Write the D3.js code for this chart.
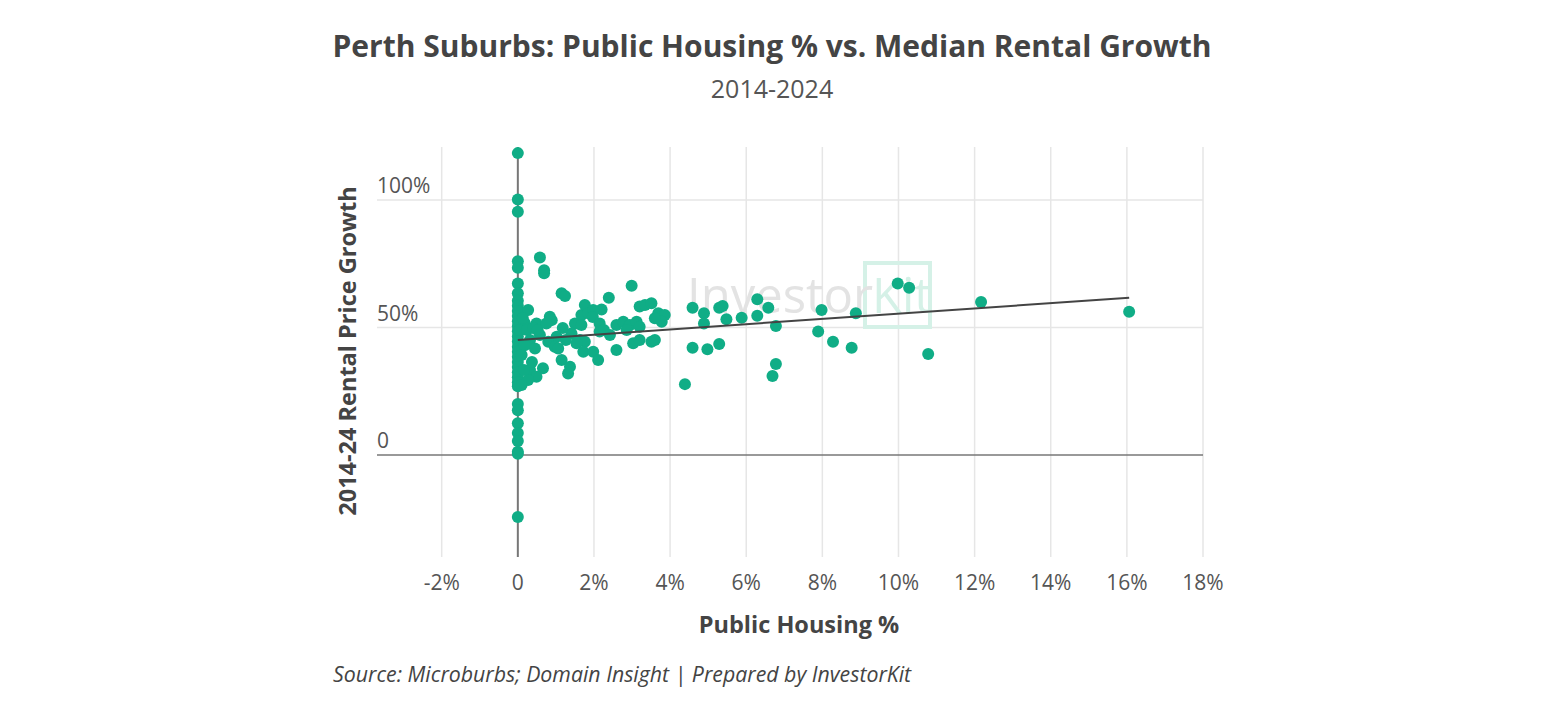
<!DOCTYPE html>
<html>
<head>
<meta charset="utf-8">
<script src="https://cdn.jsdelivr.net/npm/d3@7"></script>
<style>
  body { margin: 0; background: #fff; }
  text { font-family: "Open Sans", sans-serif; }
</style>
</head>
<body>
<div class="chart"></div>
<script>
// public housing % (x) and 2014-24 rental growth % (y)
const housingPct = [
  0,0,0,0,0,0,0,0,0,0,0,0,0,0,0,0,0,0,0,0,0,0,0,0,0,0,0,0,0,0,0,0,0,
  0.58,0.69,0.69,1.15,1.24,0.27,0.84,0.89,0.49,0.75,1.5,1.67,1.76,1.85,1.67,1.41,1.02,0.58,
  0.32,0.45,0.8,0.97,1.06,1.63,1.76,1.54,1.72,1.15,1.37,1.32,0.66,0.32,0.49,0.27,0.1,1.98,
  2.11,0.18,0.05,0.18,0.1,0.24,0.4,0.13,0.37,0.16,0.52,1.18,1.26,
  2.99,2.39,2.2,1.98,1.97,2.15,2.15,2.59,2.77,2.94,3.12,3.2,3.34,3.51,3.69,3.86,3.78,3.6,
  3.2,2.86,3.03,3.2,3.51,3.6,2.59,2.26,2.42,
  4.59,4.89,4.89,5.29,5.38,5.48,5.88,6.29,6.29,6.58,6.78,4.59,4.98,5.29,4.39,6.78,6.69,
  7.98,7.89,8.28,8.77,8.88,9.98,10.28,10.78,12.17,16.06
]
const rentGrowth = [
  118.4,100.2,95.4,76,73.4,67.3,63.4,60.5,58.5,56.5,54.5,52.5,50.5,48.5,46.5,44.5,42.5,40.5,
  38.5,36.5,34.5,32.5,30.5,28.5,27,20,17.6,12.5,8.6,5.5,1.3,0.5,-24.3,
  77.5,72.5,71.3,63.4,62.4,56.9,54.2,52.9,51.6,51.6,51.6,54.9,58.8,55.6,51,47.7,46.4,47.1,
  45.1,41.8,44.4,42.5,41.8,45.1,44.4,43.8,40.5,37.3,34.6,32,34,33.3,30.7,29.4,27.5,40.5,
  37.3,51.8,49,43,39.2,49,49.8,53.7,36.5,33.3,49,49.8,45.1,
  66.4,61.7,57.1,56.9,54.1,51.6,48.4,51,52.3,51,52.3,58.2,58.8,59.5,55.6,54.9,52.3,53.6,
  50.3,49,43.8,45.1,44.4,45.1,41.2,49,47.1,
  57.8,55.6,51.6,57.8,58.4,53.2,53.8,61.1,54.6,57.8,50.6,42.1,41.5,43.5,27.8,35.7,31,
  56.9,48.4,44.4,42.1,55.6,67.3,65.6,39.6,60,56.2
]

// trend line ends
const trendX = [0, 16.06]
const trendY = [45.1, 61.7]

const xTicks = [-2, 0, 2, 4, 6, 8, 10, 12, 14, 16, 18]
const yTicks = [0, 50, 100]

let width = 1544
let height = 725

let svg = d3.select(".chart")
  .append("svg")
  .attr("width", width)
  .attr("height", height)

let x = d3.scaleLinear().domain([-3.7, 18]).range([377, 1203])
let y = d3.scaleLinear().domain([-40, 120.8]).range([557, 147])

let fmt = d => d === 0 ? "0" : d + "%"

// grid
svg.append("g")
  .selectAll("line")
  .data(xTicks.filter(d => d !== 0))
  .enter()
  .append("line")
  .attr("x1", d => x(d)).attr("x2", d => x(d))
  .attr("y1", y.range()[1]).attr("y2", y.range()[0])
  .style("stroke", "#e6e6e6")
  .style("stroke-width", 1.5)

svg.append("g")
  .selectAll("line")
  .data(yTicks.filter(d => d !== 0))
  .enter()
  .append("line")
  .attr("x1", x.range()[0]).attr("x2", x.range()[1])
  .attr("y1", d => y(d)).attr("y2", d => y(d))
  .style("stroke", "#e6e6e6")
  .style("stroke-width", 1.5)

// watermark
let wm = svg.append("g").attr("class", "watermark")
wm.append("rect")
  .attr("x", 865).attr("y", 263)
  .attr("width", 65).attr("height", 64)
  .style("fill", "none")
  .style("stroke", "#d5f1e7")
  .style("stroke-width", 4)
let wmText = wm.append("text")
  .attr("y", 313)
  .style("font-size", "49px")
wmText.append("tspan")
  .attr("x", 687)
  .style("fill", "#e3e3e3")
  .text("Investor")
wmText.append("tspan")
  .attr("x", 872)
  .style("fill", "#d5f1e7")
  .text("Kit")

// zero lines
svg.append("line")
  .attr("x1", x(0)).attr("x2", x(0))
  .attr("y1", y.range()[1]).attr("y2", y.range()[0])
  .style("stroke", "#777")
  .style("stroke-width", 2)

svg.append("line")
  .attr("x1", x.range()[0]).attr("x2", x.range()[1])
  .attr("y1", y(0)).attr("y2", y(0))
  .style("stroke", "#777")
  .style("stroke-width", 1.5)

// ticks
svg.append("g")
  .selectAll("text")
  .data(xTicks)
  .enter()
  .append("text")
  .attr("x", d => x(d))
  .attr("y", 590)
  .attr("text-anchor", "middle")
  .style("font-size", "21px")
  .style("fill", "#555")
  .text(fmt)

svg.append("g")
  .selectAll("text")
  .data(yTicks)
  .enter()
  .append("text")
  .attr("x", 377)
  .attr("y", d => y(d) - 7)
  .style("font-size", "21px")
  .style("fill", "#555")
  .text(fmt)

// points
svg.append("g")
  .selectAll("circle")
  .data(housingPct.map((d, i) => [d, rentGrowth[i]]))
  .enter()
  .append("circle")
  .attr("cx", d => x(d[0]))
  .attr("cy", d => y(d[1]))
  .attr("r", 6)
  .style("fill", "#10ad86")

// trend
svg.append("line")
  .attr("x1", x(trendX[0])).attr("y1", y(trendY[0]))
  .attr("x2", x(trendX[1])).attr("y2", y(trendY[1]))
  .style("stroke", "#444")
  .style("stroke-width", 2)

// titles
svg.append("text")
  .attr("x", 772).attr("y", 57)
  .attr("text-anchor", "middle")
  .style("font-size", "30px")
  .style("font-weight", "bold")
  .style("fill", "#444")
  .text("Perth Suburbs: Public Housing % vs. Median Rental Growth")

svg.append("text")
  .attr("x", 772).attr("y", 98)
  .attr("text-anchor", "middle")
  .style("font-size", "25px")
  .style("fill", "#555")
  .text("2014-2024")

svg.append("text")
  .attr("x", 799).attr("y", 633)
  .attr("text-anchor", "middle")
  .style("font-size", "23.5px")
  .style("font-weight", "bold")
  .style("fill", "#444")
  .text("Public Housing %")

svg.append("text")
  .attr("transform", "translate(356,351) rotate(-90)")
  .attr("text-anchor", "middle")
  .style("font-size", "23.5px")
  .style("font-weight", "bold")
  .style("fill", "#444")
  .text("2014-24 Rental Price Growth")

svg.append("text")
  .attr("x", 333).attr("y", 682)
  .style("font-size", "21.3px")
  .style("font-style", "italic")
  .style("fill", "#444")
  .text("Source: Microburbs; Domain Insight | Prepared by InvestorKit")
</script>
</body>
</html>
